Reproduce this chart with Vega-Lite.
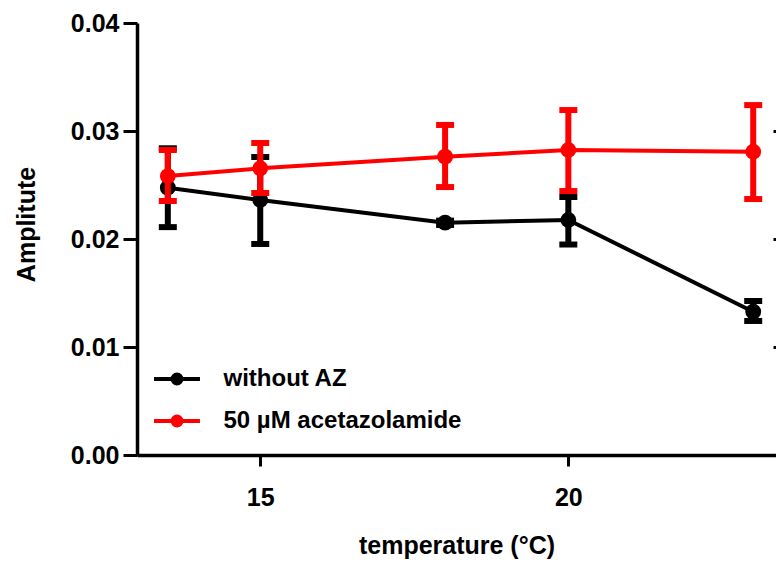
{
  "$schema": "https://vega.github.io/schema/vega-lite/v6.json",
  "autosize": {"type": "none"},
  "padding": {"left": 137, "top": 23, "right": 0, "bottom": 108},
  "width": 639,
  "height": 432,
  "background": "white",
  "config": {
    "view": {"stroke": null},
    "font": "Liberation Sans",
    "axis": {
      "grid": false,
      "domainColor": "black",
      "tickColor": "black",
      "labelColor": "black",
      "titleColor": "black",
      "labelFont": "Liberation Sans",
      "titleFont": "Liberation Sans",
      "labelFontWeight": "bold",
      "titleFontWeight": "bold",
      "labelFontSize": 25,
      "titleFontSize": 25,
      "domainWidth": 3.5,
      "tickWidth": 3
    },
    "legend": {
      "labelFont": "Liberation Sans",
      "labelFontWeight": "bold",
      "labelFontSize": 24,
      "labelColor": "black",
      "labelLimit": 500
    }
  },
  "data": {
    "values": [
      {"series": "without AZ", "temp": 13.5, "amp": 0.02475, "lo": 0.0211, "hi": 0.0284},
      {"series": "without AZ", "temp": 15, "amp": 0.02361, "lo": 0.01954, "hi": 0.02759},
      {"series": "without AZ", "temp": 18, "amp": 0.02151, "lo": 0.0213, "hi": 0.0217},
      {"series": "without AZ", "temp": 20, "amp": 0.02176, "lo": 0.01949, "hi": 0.02389},
      {"series": "without AZ", "temp": 23, "amp": 0.01327, "lo": 0.01241, "hi": 0.01426},
      {"series": "50 µM acetazolamide", "temp": 13.5, "amp": 0.02583, "lo": 0.02352, "hi": 0.02824},
      {"series": "50 µM acetazolamide", "temp": 15, "amp": 0.02654, "lo": 0.02426, "hi": 0.02889},
      {"series": "50 µM acetazolamide", "temp": 18, "amp": 0.02762, "lo": 0.02481, "hi": 0.03056},
      {"series": "50 µM acetazolamide", "temp": 20, "amp": 0.02824, "lo": 0.02444, "hi": 0.03194},
      {"series": "50 µM acetazolamide", "temp": 23, "amp": 0.02808, "lo": 0.0237, "hi": 0.0324}
    ]
  },
  "resolve": {"axis": {"y": "independent"}},
  "layer": [
    {
      "transform": [{"filter": "datum.series === 'without AZ'"}],
      "layer": [
        {
          "mark": {"type": "line", "strokeWidth": 4},
          "encoding": {
            "x": {
              "field": "temp", "type": "quantitative",
              "scale": {"domain": [13, 23.37], "nice": false, "zero": false},
              "axis": {
                "values": [15, 20], "format": "d", "tickSize": 11, "labelPadding": 19,
                "titlePadding": 23, "title": "temperature (°C)"
              }
            },
            "y": {
              "field": "amp", "type": "quantitative",
              "scale": {"domain": [0, 0.04], "nice": false},
              "axis": {
                "values": [0, 0.01, 0.02, 0.03, 0.04], "format": ".2f",
                "tickSize": 14, "labelPadding": 4,
                "title": "Amplitute", "titleX": -98, "titleY": 201
              }
            },
            "color": {
              "field": "series", "type": "nominal",
              "scale": {"domain": ["without AZ", "50 µM acetazolamide"], "range": ["#000000", "#ff0000"]},
              "legend": {
                "title": null, "orient": "none", "legendX": 17.5, "legendY": 333.5,
                "padding": 0, "rowPadding": 6, "labelOffset": 24,
                "symbolType": "M-1.12,0H1.12M0.22,0A0.22,0.22 0 1,1 -0.22,0A0.22,0.22 0 1,1 0.22,0Z",
                "symbolSize": 1681, "symbolStrokeWidth": 4,
                "encode": {
                  "symbols": {
                    "update": {
                      "fill": {"scale": "color", "field": "value"},
                      "stroke": {"scale": "color", "field": "value"},
                      "strokeWidth": {"value": 4},
                      "opacity": {"value": 1}
                    }
                  }
                }
              }
            }
          }
        },
        {
          "mark": {"type": "rule", "strokeWidth": 6},
          "encoding": {
            "x": {"field": "temp", "type": "quantitative"},
            "y": {"field": "lo", "type": "quantitative"},
            "y2": {"field": "hi"},
            "color": {"field": "series", "type": "nominal", "legend": null}
          }
        },
        {
          "mark": {"type": "tick", "orient": "horizontal", "size": 18, "thickness": 6, "opacity": 1},
          "encoding": {
            "x": {"field": "temp", "type": "quantitative"},
            "y": {"field": "lo", "type": "quantitative"},
            "color": {"field": "series", "type": "nominal", "legend": null}
          }
        },
        {
          "mark": {"type": "tick", "orient": "horizontal", "size": 18, "thickness": 6, "opacity": 1},
          "encoding": {
            "x": {"field": "temp", "type": "quantitative"},
            "y": {"field": "hi", "type": "quantitative"},
            "color": {"field": "series", "type": "nominal", "legend": null}
          }
        },
        {
          "mark": {"type": "point", "filled": true, "size": 250, "opacity": 1},
          "encoding": {
            "x": {"field": "temp", "type": "quantitative"},
            "y": {"field": "amp", "type": "quantitative"},
            "color": {"field": "series", "type": "nominal", "legend": null}
          }
        }
      ]
    },
    {
      "transform": [{"filter": "datum.series !== 'without AZ'"}],
      "layer": [
        {
          "mark": {"type": "line", "strokeWidth": 4},
          "encoding": {
            "x": {"field": "temp", "type": "quantitative"},
            "y": {
              "field": "amp", "type": "quantitative",
              "axis": {
                "orient": "right", "values": [0.01, 0.02, 0.03],
                "labels": false, "domain": false, "title": null,
                "tickSize": -3, "tickWidth": 3
              }
            },
            "color": {"field": "series", "type": "nominal", "legend": null}
          }
        },
        {
          "mark": {"type": "rule", "strokeWidth": 6},
          "encoding": {
            "x": {"field": "temp", "type": "quantitative"},
            "y": {"field": "lo", "type": "quantitative"},
            "y2": {"field": "hi"},
            "color": {"field": "series", "type": "nominal", "legend": null}
          }
        },
        {
          "mark": {"type": "tick", "orient": "horizontal", "size": 18, "thickness": 6, "opacity": 1},
          "encoding": {
            "x": {"field": "temp", "type": "quantitative"},
            "y": {"field": "lo", "type": "quantitative"},
            "color": {"field": "series", "type": "nominal", "legend": null}
          }
        },
        {
          "mark": {"type": "tick", "orient": "horizontal", "size": 18, "thickness": 6, "opacity": 1},
          "encoding": {
            "x": {"field": "temp", "type": "quantitative"},
            "y": {"field": "hi", "type": "quantitative"},
            "color": {"field": "series", "type": "nominal", "legend": null}
          }
        },
        {
          "mark": {"type": "point", "filled": true, "size": 250, "opacity": 1},
          "encoding": {
            "x": {"field": "temp", "type": "quantitative"},
            "y": {"field": "amp", "type": "quantitative"},
            "color": {"field": "series", "type": "nominal", "legend": null}
          }
        }
      ]
    }
  ]
}
